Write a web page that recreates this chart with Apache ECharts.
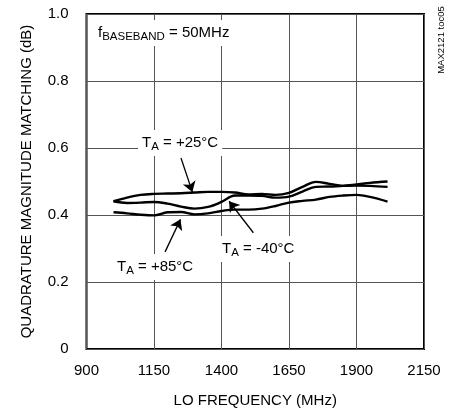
<!DOCTYPE html>
<html>
<head>
<meta charset="utf-8">
<script src="https://cdn.jsdelivr.net/npm/echarts@6/dist/echarts.min.js"></script>
<style>
  html, body { margin: 0; padding: 0; background: #fff; }
  #chart { width: 453px; height: 416px; }
</style>
</head>
<body>
<div id="chart"></div>
<script>
// LO frequency sweep points (MHz)
const loFreq = [1000, 1050, 1100, 1150, 1200, 1250, 1300, 1350, 1400, 1450, 1500,
                1550, 1600, 1650, 1700, 1750, 1800, 1850, 1900, 1950, 2015];

// Quadrature magnitude matching (dB) at each temperature
const ta25 = [0.441, 0.452, 0.460, 0.463, 0.464, 0.465, 0.467, 0.469, 0.469, 0.467, 0.461,
              0.463, 0.460, 0.466, 0.484, 0.499, 0.493, 0.487, 0.491, 0.496, 0.500];
const taM40 = [0.441, 0.436, 0.437, 0.439, 0.434, 0.425, 0.419, 0.424, 0.439, 0.458, 0.458,
               0.457, 0.452, 0.455, 0.470, 0.484, 0.485, 0.487, 0.488, 0.487, 0.484];
const ta85 = [0.408, 0.405, 0.401, 0.399, 0.408, 0.409, 0.402, 0.405, 0.412, 0.416, 0.416,
              0.419, 0.427, 0.437, 0.442, 0.446, 0.454, 0.458, 0.460, 0.454, 0.440];

// Axis ticks
const xTicks = [900, 1150, 1400, 1650, 1900, 2150];
const yTicks = [0, 0.2, 0.4, 0.6, 0.8, 1.0];

// Arrow annotations pointing from each label to its curve: [tail, head] in (MHz, dB)
const arrow25 = [[1250, 0.570], [1292, 0.469]];
const arrowM40 = [[1518, 0.347], [1428, 0.441]];
const arrow85 = [[1191, 0.290], [1248, 0.387]];

const FONT = '"Liberation Sans", Arial, sans-serif';
const pairs = ys => loFreq.map((f, i) => [f, ys[i]]);

const chart = echarts.init(document.getElementById('chart'), null, { renderer: 'canvas' });

const arrowLine = a => [{ coord: a[0], symbol: 'none' }, { coord: a[1], symbol: 'arrow' }];

const curve = (name, data, extra) => Object.assign({
  name,
  type: 'line',
  data: pairs(data),
  smooth: 0.35,
  showSymbol: false,
  lineStyle: { color: '#000', width: 2.4 },
  z: 3
}, extra || {});

const rich = {
  m: { fontSize: 15, lineHeight: 20, fontFamily: FONT, color: '#000' },
  s: { fontSize: 11.5, lineHeight: 11, verticalAlign: 'bottom', fontFamily: FONT, color: '#000' }
};

const textBox = (x, y, text) => ({
  type: 'text',
  x, y, z: 10,
  style: {
    text, rich,
    backgroundColor: '#fff',
    padding: [3, 4, 3, 4],
    verticalAlign: 'top',
    align: 'left'
  }
});

chart.setOption({
  animation: false,
  backgroundColor: '#fff',
  grid: {
    left: 86.5, right: 29, top: 14, bottom: 67,
    show: true, borderColor: '#000', borderWidth: 2,
    containLabel: false
  },
  xAxis: {
    type: 'value',
    min: 900, max: 2150,
    name: 'LO FREQUENCY (MHz)',
    nameLocation: 'middle',
    nameGap: 44,
    nameTextStyle: { fontSize: 15, color: '#000', fontFamily: FONT },
    axisLine: { show: false },
    axisTick: { show: false, customValues: xTicks },
    axisLabel: {
      customValues: xTicks, fontSize: 15, color: '#000', fontFamily: FONT, margin: 14,
      formatter: v => String(v)
    },
    splitLine: { show: true, lineStyle: { color: '#555', width: 1 } }
  },
  yAxis: {
    type: 'value',
    min: 0, max: 1, interval: 0.2,
    name: 'QUADRATURE MAGNITUDE MATCHING (dB)',
    nameLocation: 'middle',
    nameGap: 52,
    nameRotate: 90,
    nameTextStyle: { fontSize: 15, color: '#000', fontFamily: FONT },
    axisLine: { show: false },
    axisTick: { show: false, customValues: yTicks },
    axisLabel: {
      customValues: yTicks,
      fontSize: 15, color: '#000', fontFamily: FONT, margin: 18,
      formatter: v => (v === 0 ? '0' : v.toFixed(1))
    },
    splitLine: { show: true, lineStyle: { color: '#555', width: 1 } }
  },
  series: [
    curve('TA = +25°C', ta25),
    curve('TA = -40°C', taM40),
    curve('TA = +85°C', ta85, {
      markLine: {
        silent: true,
        animation: false,
        symbolSize: 10,
        label: { show: false },
        emphasis: { disabled: true },
        lineStyle: { color: '#000', width: 1.3, type: 'solid' },
        data: [arrowLine(arrow25), arrowLine(arrowM40), arrowLine(arrow85)]
      }
    })
  ],
  graphic: [
    textBox(94, 20, '{m|f}{s|BASEBAND}{m| = 50MHz}'),
    textBox(138, 130, '{m|T}{s|A}{m| = +25°C}'),
    textBox(218, 236, '{m|T}{s|A}{m| = -40°C}'),
    textBox(113, 254, '{m|T}{s|A}{m| = +85°C}'),
    {
      type: 'text',
      x: 441, y: 40, rotation: Math.PI / 2, z: 10,
      style: {
        text: 'MAX2121 toc05',
        fontSize: 9.5, fontFamily: FONT, fill: '#000',
        align: 'center', verticalAlign: 'middle'
      }
    }
  ]
});
</script>
</body>
</html>
